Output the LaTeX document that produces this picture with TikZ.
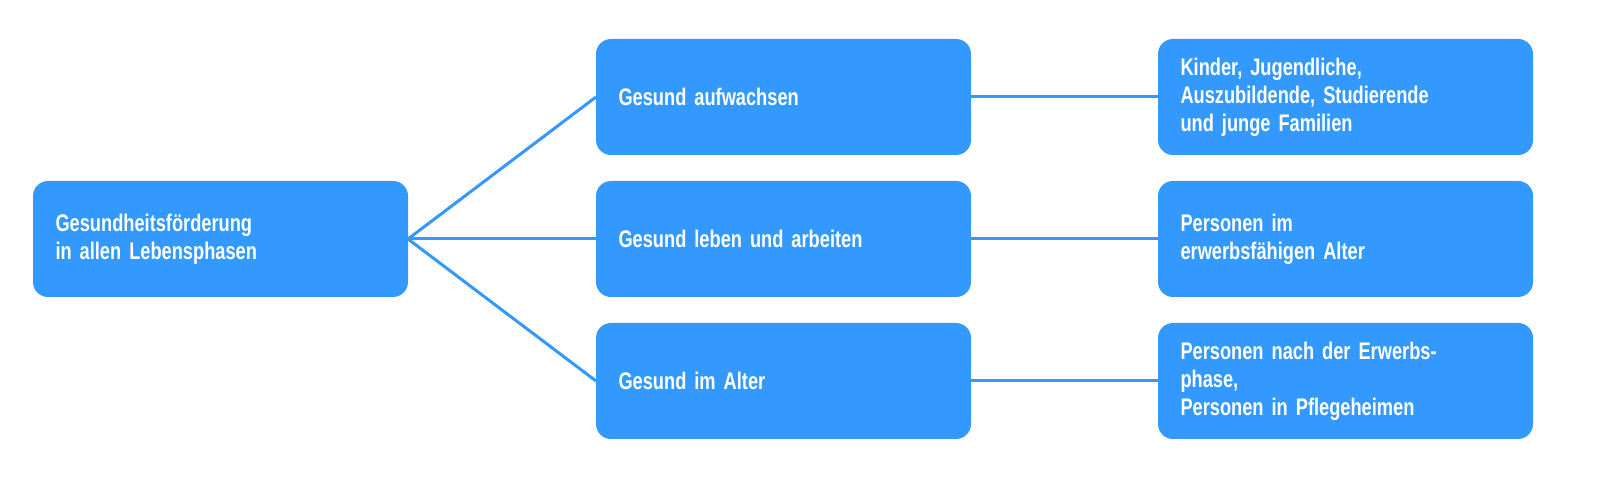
\documentclass[tikz,border=0pt]{standalone}
\usepackage{fontspec}
\setmainfont[FakeStretch=0.76,WordSpace=0.7]{Liberation Sans}
\definecolor{boxblue}{HTML}{3399FF}
\tikzset{
  bx/.style={fill=boxblue, rounded corners=7.5pt, minimum width=187.5pt, minimum height=58pt,
    text width=165pt, inner xsep=11pt, align=left, text=white, anchor=north west, outer sep=0pt,
    font=\bfseries\fontsize{12}{14}\selectfont},
  ln/.style={draw=boxblue, line width=1.5pt}
}
\begin{document}
\begin{tikzpicture}[x=0.5pt,y=-0.5pt]
\useasboundingbox[fill=white] (0,0) rectangle (1604,490);
\node[bx] (a) at (33,181) {Gesundheitsförderung\\in allen Lebensphasen};
\node[bx] (m1) at (596,39) {Gesund aufwachsen};
\node[bx] (m2) at (596,181) {Gesund leben und arbeiten};
\node[bx] (m3) at (596,323) {Gesund im Alter};
\node[bx] (r1) at (1158,39) {Kinder, Jugendliche,\\Auszubildende, Studierende\\und junge Familien};
\node[bx] (r2) at (1158,181) {Personen im\\erwerbsfähigen Alter};
\node[bx] (r3) at (1158,323) {Personen nach der Erwerbs-\\phase,\\Personen in Pflegeheimen};
\draw[ln] (a.east) -- (m1.west);
\draw[ln] (a.east) -- (m2.west);
\draw[ln] (a.east) -- (m3.west);
\draw[ln] (m1.east) -- (r1.west);
\draw[ln] (m2.east) -- (r2.west);
\draw[ln] (m3.east) -- (r3.west);
\end{tikzpicture}
\end{document}
